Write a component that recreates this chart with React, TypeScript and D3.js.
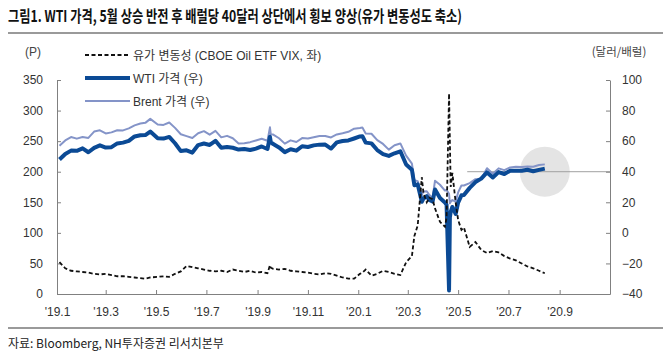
import React, { useEffect, useRef } from "react";
import * as d3 from "d3";

// weekly closes (plus a few daily points around the spikes)
const dates = [
  "2019-01-04", "2019-01-11", "2019-01-18", "2019-01-25", "2019-02-01", "2019-02-08", "2019-02-15", "2019-02-22",
  "2019-03-01", "2019-03-08", "2019-03-15", "2019-03-22", "2019-03-29", "2019-04-05", "2019-04-12", "2019-04-18",
  "2019-04-24", "2019-05-03", "2019-05-10", "2019-05-17", "2019-05-24", "2019-05-31", "2019-06-07", "2019-06-14",
  "2019-06-21", "2019-06-28", "2019-07-05", "2019-07-12", "2019-07-19", "2019-07-26", "2019-08-02", "2019-08-09",
  "2019-08-16", "2019-08-23", "2019-08-30", "2019-09-06", "2019-09-13", "2019-09-16", "2019-09-17", "2019-09-20",
  "2019-09-27", "2019-10-04", "2019-10-11", "2019-10-18", "2019-10-25", "2019-11-01", "2019-11-08", "2019-11-15",
  "2019-11-22", "2019-11-29", "2019-12-06", "2019-12-13", "2019-12-20", "2019-12-27",
  "2020-01-03", "2020-01-06", "2020-01-10", "2020-01-17", "2020-01-24", "2020-01-31", "2020-02-07", "2020-02-14",
  "2020-02-21", "2020-02-28", "2020-03-06", "2020-03-09", "2020-03-13", "2020-03-18", "2020-03-20", "2020-03-24",
  "2020-03-27", "2020-03-31", "2020-04-03", "2020-04-09", "2020-04-15", "2020-04-17", "2020-04-20", "2020-04-21",
  "2020-04-22", "2020-04-24", "2020-04-28", "2020-05-01", "2020-05-05", "2020-05-08", "2020-05-15", "2020-05-22",
  "2020-05-29", "2020-06-05", "2020-06-12", "2020-06-19", "2020-06-26", "2020-07-03", "2020-07-10", "2020-07-17",
  "2020-07-24", "2020-07-31", "2020-08-07", "2020-08-14",
];

const oilVix = [
  52, 42, 38, 37, 36, 35, 33, 32, 33, 31, 29, 29, 28, 27, 26, 25,
  27, 28, 29, 28, 33, 37, 46, 44, 42, 40, 38, 37, 38, 36, 40, 38,
  36, 38, 35, 36, 34, 47, 43, 41, 40, 41, 38, 37, 36, 35, 33, 32,
  34, 33, 30, 27, 25, 25,
  33, 35, 40, 30, 33, 38, 36, 33, 31, 52, 62, 95, 112, 191, 165, 150,
  158, 155, 140, 118, 110, 125, 328, 250, 175, 198, 150, 121, 105, 109, 77, 85,
  72, 67, 70, 68, 62, 58, 55, 50, 45, 42, 38, 34,
];

const wti = [
  47.96, 51.59, 53.8, 53.69, 55.26, 52.72, 55.59, 57.26, 55.8, 56.07, 58.52, 59.04, 60.14, 63.08, 63.89, 64.0,
  66.3, 61.94, 61.66, 62.76, 58.63, 53.5, 54.0, 52.51, 57.43, 58.47, 57.51, 60.21, 55.63, 56.2, 55.66, 54.5,
  54.87, 54.17, 55.1, 56.52, 54.85, 62.9, 59.34, 58.09, 55.91, 52.81, 54.7, 53.78, 56.66, 56.2, 57.24, 57.72,
  57.77, 55.17, 59.2, 60.07, 60.44, 61.72,
  63.05, 63.27, 59.04, 58.54, 54.19, 51.56, 50.32, 52.05, 53.38, 44.76, 41.28, 31.13, 31.73, 20.37, 22.43, 24.01,
  21.51, 20.48, 28.34, 22.76, 19.87, 18.27, -37.63, 10.01, 13.78, 16.94, 12.34, 19.78, 24.56, 24.74, 29.43, 33.25,
  35.49, 39.55, 36.26, 39.75, 38.49, 40.65, 40.55, 40.59, 41.29, 40.27, 41.22, 42.01,
];

const brent = [
  57.06, 60.48, 62.7, 61.64, 62.75, 62.1, 66.25, 67.12, 65.07, 65.74, 67.16, 67.03, 68.39, 70.34, 71.55, 71.97,
  74.57, 70.85, 70.62, 72.21, 68.69, 64.49, 63.29, 62.01, 65.2, 66.55, 64.23, 66.72, 62.47, 63.46, 61.89, 58.53,
  58.64, 59.34, 60.43, 61.54, 60.22, 69.02, 64.55, 64.28, 61.91, 58.37, 60.51, 59.42, 62.02, 61.69, 62.51, 63.3,
  63.39, 62.43, 64.39, 65.22, 66.14, 68.16,
  68.6, 68.91, 64.98, 64.85, 60.69, 58.16, 54.47, 57.32, 58.5, 50.52, 45.27, 34.36, 33.85, 24.88, 26.98, 27.15,
  24.93, 22.74, 34.11, 31.48, 27.69, 28.08, 25.57, 19.33, 20.37, 21.44, 20.46, 26.44, 30.97, 30.97, 32.5, 35.13,
  35.33, 42.3, 38.73, 42.19, 41.02, 42.8, 43.24, 43.14, 43.34, 43.3, 44.4, 44.8,
];

const xTicks = [
  "2019-01-01", "2019-03-01", "2019-05-01", "2019-07-01", "2019-09-01", "2019-11-01",
  "2020-01-01", "2020-03-01", "2020-05-01", "2020-07-01", "2020-09-01",
];
const leftTicks = [0, 50, 100, 150, 200, 250, 300, 350];
const rightTicks = [-40, -20, 0, 20, 40, 60, 80, 100];

const legendItems = [
  { label: "유가 변동성 (CBOE Oil ETF VIX, 좌)", key: "vix" },
  { label: "WTI 가격 (우)", key: "wti" },
  { label: "Brent 가격 (우)", key: "brent" },
];

const W = 670;
const H = 360;
const m = { left: 57, right: 610, top: 80, bottom: 294 };
const FONT = "'Liberation Sans', Arial, 'Noto Sans CJK KR', sans-serif";
const KFONT = "'Noto Sans CJK KR', 'Liberation Sans', sans-serif";

const styles = {
  vix: { stroke: "#111", width: 1.8, dash: "4,2.5" },
  wti: { stroke: "#0b4a95", width: 4, dash: null },
  brent: { stroke: "#8494c8", width: 2, dash: null },
};

const parse = d3.timeParse("%Y-%m-%d");

const App = () => {
  const leftRef = useRef<SVGGElement>(null);
  const rightRef = useRef<SVGGElement>(null);
  const bottomRef = useRef<SVGGElement>(null);

  const x = d3
    .scaleTime()
    .domain([parse("2019-01-01")!, parse("2020-11-01")!])
    .range([m.left, m.right]);
  const yL = d3.scaleLinear().domain([0, 350]).range([m.bottom, m.top]);
  const yR = d3.scaleLinear().domain([-40, 100]).range([m.bottom, m.top]);

  const pts = dates.map((d, i) => ({ date: parse(d)!, vix: oilVix[i], wti: wti[i], brent: brent[i] }));

  const lineL = (k) => d3.line<any>().x((d) => x(d.date)).y((d) => yL(d[k]))(pts);
  const lineR = (k) => d3.line<any>().x((d) => x(d.date)).y((d) => yR(d[k]))(pts);

  useEffect(() => {
    const styleAxis = (g) => {
      g.select(".domain").attr("stroke", "#808080");
      g.selectAll(".tick line").attr("stroke", "#808080");
      g.selectAll(".tick text").attr("fill", "#333").attr("font-size", 12).attr("font-family", FONT);
    };
    d3.select(leftRef.current)
      .call(d3.axisLeft(yL).tickValues(leftTicks).tickSizeInner(-4).tickSizeOuter(0).tickPadding(14))
      .call(styleAxis);
    d3.select(rightRef.current)
      .call(d3.axisRight(yR).tickValues(rightTicks).tickSizeInner(-4).tickSizeOuter(0).tickPadding(12))
      .call(styleAxis);
    d3.select(bottomRef.current)
      .call(
        d3
          .axisBottom(x)
          .tickValues(xTicks.map((t) => parse(t)!))
          .tickFormat((d: any) => `'${d3.timeFormat("%y")(d)}.${d.getMonth() + 1}`)
          .tickSizeInner(-4)
          .tickSizeOuter(0)
          .tickPadding(13)
      )
      .call(styleAxis);
  }, []);

  const lastDate = pts[pts.length - 1].date;

  return (
    <svg width={W} height={H} style={{ position: "absolute", left: 0, top: 0, background: "#fff" }}>
      <text x={8} y={22} fontFamily={KFONT} fontWeight="bold" fontSize={16} fill="#111"
        textLength={454} lengthAdjust="spacingAndGlyphs">
        그림1. WTI 가격, 5월 상승 반전 후 배럴당 40달러 상단에서 횡보 양상(유가 변동성도 축소)
      </text>
      <line x1={8} x2={663} y1={33} y2={33} stroke="#9a9a9a" strokeWidth={2} />

      <text x={33} y={56} textAnchor="middle" fontFamily={FONT} fontSize={12} fill="#444">(P)</text>
      <text x={619} y={56} textAnchor="middle" fontFamily={KFONT} fontSize={11.5} fill="#444">(달러/배럴)</text>

      {/* annotation */}
      <circle cx={x(lastDate)} cy={yR(40)} r={25} fill="#e4e4e4" />
      <line x1={x(parse("2020-05-12")!)} x2={m.right} y1={yR(40)} y2={yR(40)} stroke="#a0a0a0" strokeWidth={1} />

      <g ref={leftRef} transform={`translate(${m.left},0)`} />
      <g ref={rightRef} transform={`translate(${m.right},0)`} />
      <g ref={bottomRef} transform={`translate(0,${m.bottom})`} />

      <path d={lineR("brent") ?? ""} fill="none" stroke={styles.brent.stroke} strokeWidth={styles.brent.width} strokeLinejoin="round" />
      <path d={lineR("wti") ?? ""} fill="none" stroke={styles.wti.stroke} strokeWidth={styles.wti.width} strokeLinejoin="round" />
      <path d={lineL("vix") ?? ""} fill="none" stroke={styles.vix.stroke} strokeWidth={styles.vix.width}
        strokeDasharray={styles.vix.dash} />

      {legendItems.map((it, i) => {
        const s = styles[it.key];
        const cy = 55 + i * 23;
        return (
          <g key={it.key}>
            <line x1={85} x2={130} y1={cy} y2={cy} stroke={s.stroke} strokeWidth={s.width}
              strokeDasharray={s.dash ?? undefined} />
            <text x={133} y={cy + 4.5} fontFamily={FONT} fontSize={12} fill="#333">{it.label}</text>
          </g>
        );
      })}

      <line x1={8} x2={663} y1={328} y2={328} stroke="#9a9a9a" strokeWidth={2} />
      <text x={8} y={348} fontFamily={KFONT} fontSize={12} fill="#222">자료: Bloomberg, NH투자증권 리서치본부</text>
    </svg>
  );
};

export default App;
